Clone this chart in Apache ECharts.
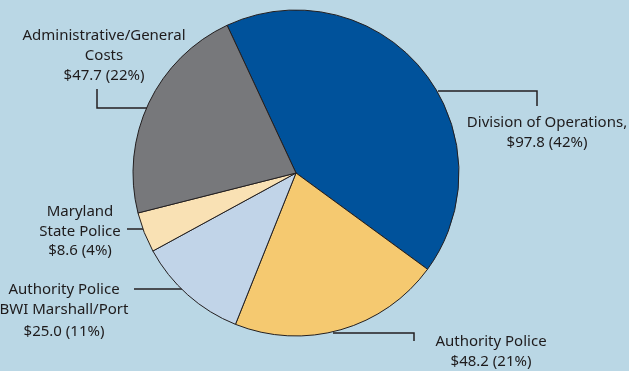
<!DOCTYPE html>
<html>
<head>
<meta charset="utf-8">
<style>
  html, body { margin: 0; padding: 0; background: #bad7e5; }
  #chart { width: 629px; height: 371px; }
</style>
<script src="https://cdn.jsdelivr.net/npm/echarts@6/dist/echarts.min.js"></script>
</head>
<body>
<div id="chart"></div>
<script>
// Budget shares by program (millions of dollars)
const names = [
  'Division of Operations,',
  'Authority Police',
  'Authority Police\nBWI Marshall/Port',
  'Maryland\nState Police',
  'Administrative/General\nCosts'
];
const dollars = [97.8, 48.2, 25.0, 8.6, 47.7];
const shares = [42, 21, 11, 4, 22];
const colors = ['#00529b', '#f5c970', '#c1d4e8', '#f9e1b4', '#77787b'];

// Label placement and leader-line routes, one entry per slice
const labelSpots = [
  { x: 547, y: 133, gap: 20, line: [[438, 91], [537, 91], [537, 106]] },
  { x: 491, y: 352, gap: 20, line: [[333, 333], [414, 333], [414, 341]] },
  { x: 64, y: 312, gap: 24, line: [[182, 289], [158, 289], [134, 289]] },
  { x: 80, y: 231, gap: 19, line: [[143, 229], [135, 229], [127, 229]] },
  { x: 104, y: 56, gap: 20, line: [[147, 108], [97, 108], [97, 89]] }
];

const chart = echarts.init(document.getElementById('chart'), null, { renderer: 'canvas' });

chart.setOption({
  backgroundColor: '#bad7e5',
  animation: false,
  series: [{
    type: 'pie',
    center: [296, 173],
    radius: 163,
    startAngle: 115,
    clockwise: true,
    avoidLabelOverlap: false,
    data: shares.map((v, i) => ({
      value: v,
      name: names[i],
      itemStyle: { color: colors[i] }
    })),
    itemStyle: { borderColor: '#231f20', borderWidth: 1 },
    label: {
      show: true,
      color: '#1e1b1c',
      fontFamily: 'Noto Sans',
      fontSize: 15,
      lineHeight: 20,
      align: 'center',
      rich: {
        n: { lineHeight: 19.5 },
        v20: { lineHeight: 20.5 },
        v19: { lineHeight: 19 },
        v24: { lineHeight: 25 }
      },
      formatter: p => {
        const i = p.dataIndex;
        const head = p.name.split('\n').map(t => '{n|' + t + '}').join('\n');
        return head + '\n{v' + labelSpots[i].gap + '|$' + dollars[i].toFixed(1) + ' (' + shares[i] + '%)}';
      }
    },
    labelLine: {
      show: true,
      lineStyle: { color: '#231f20', width: 1.5 }
    },
    labelLayout: p => {
      const s = labelSpots[p.dataIndex];
      return {
        x: s.x,
        y: s.y,
        align: 'center',
        verticalAlign: 'middle',
        labelLinePoints: s.line
      };
    },
    emphasis: { disabled: true }
  }]
});
</script>
</body>
</html>
